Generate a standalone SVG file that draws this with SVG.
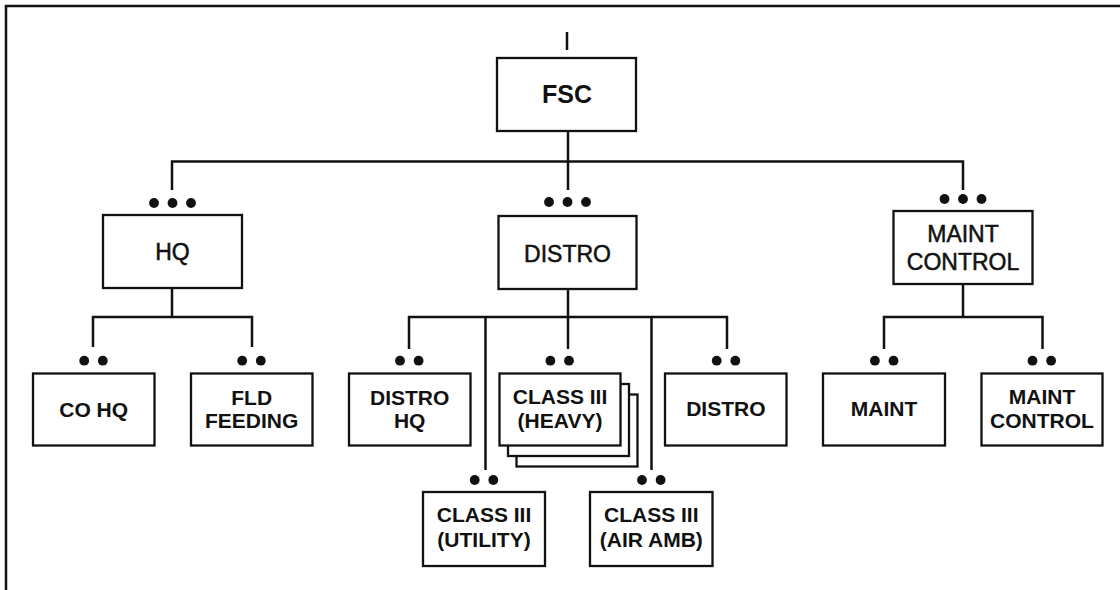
<svg xmlns="http://www.w3.org/2000/svg" width="1120" height="590" viewBox="0 0 1120 590">
<style>
.box{fill:#fff;stroke:#111;stroke-width:2.3}
.ln{fill:none;stroke:#111;stroke-width:2.5}
.frame{fill:none;stroke:#111;stroke-width:2.5}
.t{font-family:"Liberation Sans",Arial,sans-serif;fill:#111;text-anchor:middle}
.top{font-size:25px;font-weight:bold}
.mid{font-size:23px;stroke:#111;stroke-width:0.5}
.low{font-size:21px;font-weight:bold}
.dot{fill:#111}
</style>
<defs>
<g id="d2"><circle cx="-9.3" cy="0" r="4.9" class="dot"/><circle cx="9.3" cy="0" r="4.9" class="dot"/></g>
<g id="d3"><circle cx="-18.5" cy="0" r="4.9" class="dot"/><circle cx="0" cy="0" r="4.9" class="dot"/><circle cx="18.5" cy="0" r="4.9" class="dot"/></g>
</defs>
<rect width="1120" height="590" fill="#fff"/>
<path class="frame" d="M6,590 V6 H1120"/>
<g id="connectors">
<path class="ln" d="M567,32 V50"/>
<path class="ln" d="M568,131 V190 M172,190 V161.5 H963 V190"/>
<path class="ln" d="M172,288 V317 M93,347 V317 H252 V347"/>
<path class="ln" d="M568,289 V317 M409,349 V317 H727 V349 M485.5,470 V317 M568,317 V349 M651.5,470 V317"/>
<path class="ln" d="M963,284 V317 M884,349 V317 H1042.5 V349"/>
</g>
<g id="dots">
<use href="#d3" x="172.5" y="203"/>
<use href="#d3" x="567.5" y="202"/>
<use href="#d3" x="963" y="199"/>
<use href="#d2" x="93.5" y="360.7"/>
<use href="#d2" x="251.5" y="360.7"/>
<use href="#d2" x="409.3" y="360.7"/>
<use href="#d2" x="559.7" y="360.7"/>
<use href="#d2" x="726" y="360.7"/>
<use href="#d2" x="484" y="480"/>
<use href="#d2" x="651.3" y="480"/>
<use href="#d2" x="884.2" y="360.7"/>
<use href="#d2" x="1041.8" y="360.7"/>
</g>
<g id="fsc"><rect class="box" x="497" y="58" width="139" height="73"/><text class="t top" x="567" y="102.5">FSC</text></g>
<g id="hq"><rect class="box" x="103" y="215" width="139" height="73"/><text class="t mid" x="172.5" y="260">HQ</text></g>
<g id="distro"><rect class="box" x="498.5" y="216" width="138" height="73"/><text class="t mid" x="567.5" y="261.5">DISTRO</text></g>
<g id="maint-control-mid"><rect class="box" x="893.5" y="211" width="139" height="73"/><text class="t mid" x="963" y="242.3">MAINT</text><text class="t mid" x="963" y="270">CONTROL</text></g>
<g id="co-hq"><rect class="box" x="33" y="373.5" width="121.5" height="72"/><text class="t low" x="93.7" y="416.7">CO HQ</text></g>
<g id="fld-feeding"><rect class="box" x="191" y="373.5" width="121.5" height="72"/><text class="t low" x="251.7" y="405">FLD</text><text class="t low" x="251.7" y="427.7">FEEDING</text></g>
<g id="distro-hq"><rect class="box" x="349" y="373.5" width="121.5" height="72"/><text class="t low" x="409.7" y="405">DISTRO</text><text class="t low" x="409.7" y="428">HQ</text></g>
<g id="class3-heavy">
<rect class="box" x="516.5" y="394.5" width="121" height="72"/>
<rect class="box" x="508" y="384" width="121" height="72"/>
<rect class="box" x="499.5" y="373.5" width="121" height="72"/>
<text class="t low" x="560" y="404.3">CLASS III</text><text class="t low" x="560" y="428">(HEAVY)</text></g>
<g id="distro-right"><rect class="box" x="665" y="373.5" width="121.5" height="72"/><text class="t low" x="725.8" y="416">DISTRO</text></g>
<g id="class3-utility"><rect class="box" x="423" y="492" width="122" height="74"/><text class="t low" x="484" y="522.3">CLASS III</text><text class="t low" x="484" y="546.7">(UTILITY)</text></g>
<g id="class3-airamb"><rect class="box" x="590" y="492" width="122.5" height="74"/><text class="t low" x="651.3" y="522.3">CLASS III</text><text class="t low" x="651.3" y="546.7">(AIR AMB)</text></g>
<g id="maint"><rect class="box" x="823" y="373.5" width="122" height="72"/><text class="t low" x="884" y="416">MAINT</text></g>
<g id="maint-control"><rect class="box" x="981.5" y="373.5" width="121" height="72"/><text class="t low" x="1042" y="404.3">MAINT</text><text class="t low" x="1042" y="427.7">CONTROL</text></g>
</svg>
